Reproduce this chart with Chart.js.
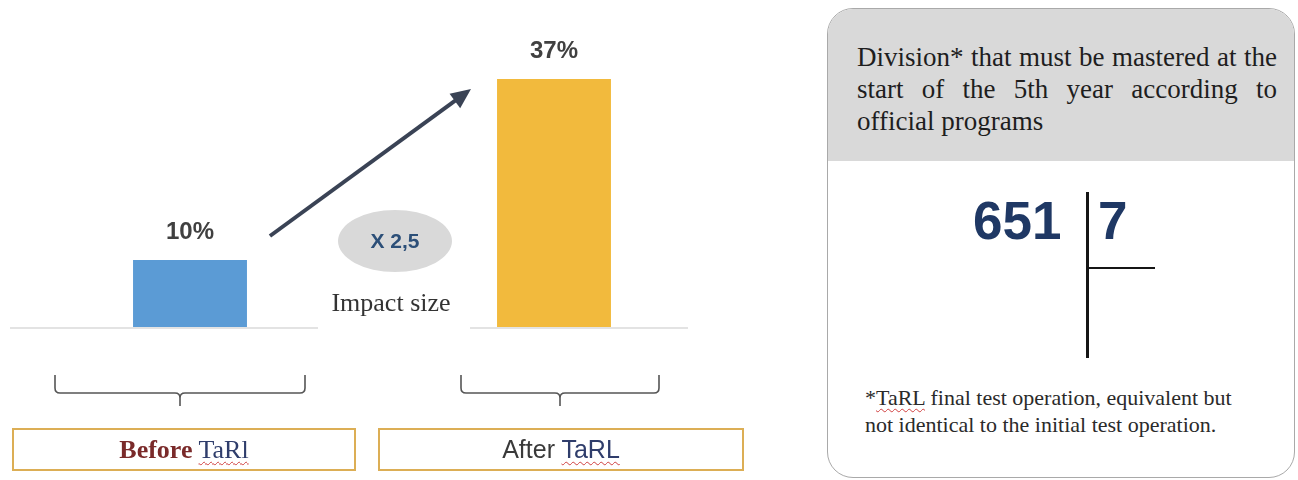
<!DOCTYPE html>
<html>
<head>
<meta charset="utf-8">
<script src="https://cdn.jsdelivr.net/npm/chart.js@4/dist/chart.umd.min.js"></script>
<style>
  body { margin:0; background:#fff; width:1298px; height:480px; overflow:hidden; position:relative; font-family:"Liberation Serif", serif; }
  #wrap { position:absolute; left:0; top:0; width:770px; height:480px; }
  .lab { position:absolute; top:428px; height:43px; border:2px solid #dcae55; box-sizing:border-box;
         display:flex; align-items:center; justify-content:center; white-space:nowrap; }
  .squig { text-decoration: underline wavy #d04040; text-decoration-thickness:1px; text-underline-offset:3px; }
  #panel { position:absolute; left:827px; top:8px; width:468px; height:470px; border:1.5px solid #a9a9a9;
           border-radius:26px; box-sizing:border-box; overflow:hidden; background:#fff; }
  #head { background:#d9d9d9; height:152px; box-sizing:border-box; padding:32px 17px 0 29px;
          font-size:27px; line-height:32px; color:#1e1e1e; }
  #head .j { text-align:justify; text-align-last:justify; white-space:nowrap; }
  #foot { position:absolute; left:37px; top:375px; font-size:22px; line-height:27px; color:#2a2a2a; white-space:nowrap; }
  .big { position:absolute; font-family:"Liberation Sans", Arial, sans-serif; font-weight:bold; font-size:53px; color:#1f3864; line-height:1; }
  .ln { position:absolute; background:#151515; }
</style>
</head>
<body>
<div id="wrap"><canvas id="c"></canvas></div>

<div class="lab" style="left:12px;width:344px;font-size:26px;">
  <span><b style="color:#7a2a2a;">Before</b> <span class="squig" style="color:#2f3d6b;">TaRl</span></span>
</div>
<div class="lab" style="left:378px;width:366px;font-family:'Liberation Sans', Arial, sans-serif;font-size:25px;color:#3a3a3a;">
  <span>After <span class="squig" style="color:#2f3d6b;">TaRL</span></span>
</div>

<div id="panel">
  <div id="head">
    <div class="j">Division* that must be mastered at the</div>
    <div class="j">start of the 5th year according to</div>
    <div>official programs</div>
  </div>
  <div class="big" style="left:145px;top:185px;">651</div>
  <div class="big" style="left:270px;top:185px;">7</div>
  <div class="ln" style="left:258px;top:183px;width:2.5px;height:166px;"></div>
  <div class="ln" style="left:260px;top:258px;width:67px;height:2px;"></div>
  <div id="foot">*<span class="squig">TaRL</span> final test operation, equivalent but<br>not identical to the initial test operation.</div>
</div>

<script>
const categories = ['Before TaRl', 'After TaRL'];
const values = [10, 37];
const valueLabels = ['10%', '37%'];
const barColors = ['#5b9bd5', '#f2ba3d'];
const impactText = 'X 2,5';
const impactCaption = 'Impact size';

const decor = {
  id: 'decor',
  beforeDatasetsDraw(chart) {
    const ctx = chart.ctx;
    const y0 = chart.scales.y.getPixelForValue(0);
    ctx.save();
    ctx.strokeStyle = '#e3e3e3';
    ctx.lineWidth = 2;
    ctx.beginPath();
    ctx.moveTo(10, y0 + 1); ctx.lineTo(318, y0 + 1);
    ctx.moveTo(470, y0 + 1); ctx.lineTo(688, y0 + 1);
    ctx.stroke();
    ctx.restore();
  },
  afterDatasetsDraw(chart) {
    const ctx = chart.ctx;
    const bars = chart.getDatasetMeta(0).data;
    ctx.save();
    // value labels
    ctx.fillStyle = '#404040';
    ctx.font = 'bold 24px "Liberation Sans", sans-serif';
    ctx.textAlign = 'center';
    ctx.textBaseline = 'middle';
    bars.forEach((b, i) => ctx.fillText(valueLabels[i], b.x, b.y - 28));

    // arrow
    const x1 = bars[0].x + bars[0].width / 2 + 23, y1 = bars[0].y - 24;
    const x2 = bars[1].x - bars[1].width / 2 - 26, y2 = bars[1].y + 10;
    const ang = Math.atan2(y2 - y1, x2 - x1);
    ctx.strokeStyle = '#3a4355';
    ctx.fillStyle = '#3a4355';
    ctx.lineWidth = 4;
    ctx.beginPath();
    ctx.moveTo(x1, y1);
    ctx.lineTo(x2 - 12 * Math.cos(ang), y2 - 12 * Math.sin(ang));
    ctx.stroke();
    ctx.beginPath();
    ctx.moveTo(x2, y2);
    ctx.lineTo(x2 - 20 * Math.cos(ang) + 9 * Math.sin(ang), y2 - 20 * Math.sin(ang) - 9 * Math.cos(ang));
    ctx.lineTo(x2 - 20 * Math.cos(ang) - 9 * Math.sin(ang), y2 - 20 * Math.sin(ang) + 9 * Math.cos(ang));
    ctx.closePath();
    ctx.fill();

    // impact ellipse
    ctx.fillStyle = '#d9d9d9';
    ctx.beginPath();
    ctx.ellipse(395, 241, 57, 31, 0, 0, Math.PI * 2);
    ctx.fill();
    ctx.fillStyle = '#2c4f78';
    ctx.font = 'bold 21px "Liberation Sans", sans-serif';
    ctx.fillText(impactText, 395, 242);
    ctx.fillStyle = '#333';
    ctx.font = '26px "Liberation Serif", serif';
    ctx.fillText(impactCaption, 391, 304);

    // braces
    const braces = [[bars[0].x - 10, 125], [bars[1].x + 6, 99]];
    ctx.strokeStyle = '#555';
    ctx.lineWidth = 1.6;
    const top = 375, h = 393, tick = 406, r = 5;
    braces.forEach(([c, hw]) => {
      const l = c - hw, rr = c + hw;
      ctx.beginPath();
      ctx.moveTo(l, top);
      ctx.lineTo(l, h - r);
      ctx.quadraticCurveTo(l, h, l + r, h);
      ctx.lineTo(c - r, h);
      ctx.quadraticCurveTo(c, h, c, h + r);
      ctx.lineTo(c, tick);
      ctx.moveTo(c, h + r);
      ctx.quadraticCurveTo(c, h, c + r, h);
      ctx.lineTo(rr - r, h);
      ctx.quadraticCurveTo(rr, h, rr, h - r);
      ctx.lineTo(rr, top);
      ctx.stroke();
    });
    ctx.restore();
  }
};

new Chart(document.getElementById('c'), {
  type: 'bar',
  data: {
    labels: categories,
    datasets: [{
      data: values,
      backgroundColor: barColors,
      borderWidth: 0,
      barPercentage: 0.313,
      categoryPercentage: 1
    }]
  },
  options: {
    responsive: true,
    maintainAspectRatio: false,
    animation: false,
    layout: { padding: { left: 8, right: 34, top: 59, bottom: 153 } },
    scales: {
      x: { display: false },
      y: { display: false, min: 0, max: 40 }
    },
    plugins: { legend: { display: false }, tooltip: { enabled: false } }
  },
  plugins: [decor]
});
</script>
</body>
</html>
